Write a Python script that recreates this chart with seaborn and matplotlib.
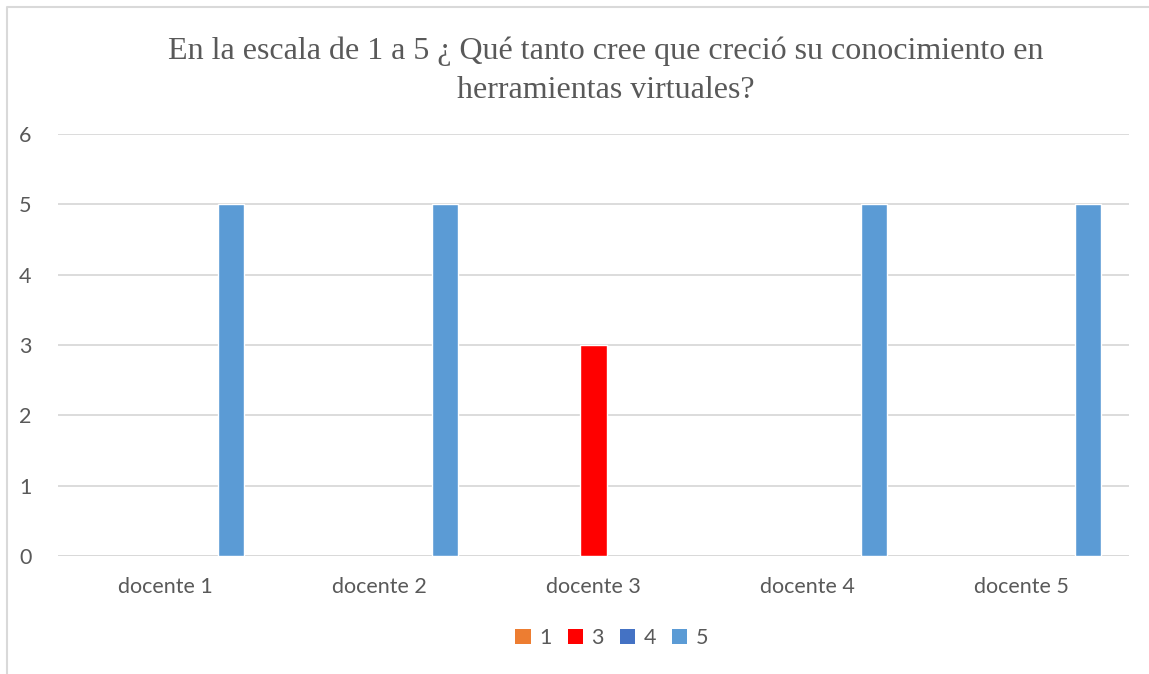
import numpy as np
import pandas as pd
import matplotlib
matplotlib.use("Agg")
import matplotlib.pyplot as plt
from matplotlib.patches import Patch
from matplotlib.lines import Line2D
import seaborn as sns

# Survey answers per teacher (scale 1-5)
docentes = ["docente 1", "docente 2", "docente 3", "docente 4", "docente 5"]
serie_1 = [np.nan, np.nan, np.nan, np.nan, np.nan]
serie_2 = [np.nan, np.nan, np.nan, np.nan, np.nan]
serie_3 = [np.nan, np.nan, 3, np.nan, np.nan]
serie_4 = [np.nan, np.nan, np.nan, np.nan, np.nan]
serie_5 = [5, 5, np.nan, 5, 5]
series = ["1", "2", "3", "4", "5"]
legend_series = ["1", "3", "4", "5"]
colores = {"1": "#ED7D31", "2": "#A5A5A5", "3": "#FF0000", "4": "#4472C4", "5": "#5B9BD5"}

titulo = "En la escala de 1 a 5 ¿ Qué tanto cree que creció su conocimiento en\nherramientas virtuales?"

rows = []
for name, vals in zip(series, [serie_1, serie_2, serie_3, serie_4, serie_5]):
    for d, v in zip(docentes, vals):
        if not np.isnan(v):
            rows.append({"docente": d, "serie": name, "valor": v})
df = pd.DataFrame(rows)

sns.set_theme(style="white")
plt.rcParams["font.family"] = ["Lato", "DejaVu Sans"]

fig = plt.figure(figsize=(11.49, 6.74), dpi=100)
ax = fig.add_axes([58 / 1149, 1 - 556 / 674, (1129 - 58) / 1149, (556 - 134) / 674])

sns.barplot(data=df, x="docente", y="valor", hue="serie", order=docentes,
            hue_order=series, palette=colores, width=0.77, gap=0.21, dodge=True,
            saturation=1, ax=ax, legend=False, errorbar=None)

ax.set_ylim(0, 6)
ax.set_xlim(-0.5, 4.5)
ax.set_yticks(range(0, 7))
ax.yaxis.grid(True, color="#D9D9D9", linewidth=1.3)
ax.set_axisbelow(True)
for s in ax.spines.values():
    s.set_visible(False)
ax.axhline(0, color="#D9D9D9", linewidth=1.3, zorder=0.5)
ax.set_xlabel("")
ax.set_ylabel("")
ax.tick_params(axis="y", length=0, pad=19, labelsize=15.5, labelcolor="#595959")
ax.tick_params(axis="x", length=0, pad=15, labelsize=15.5, labelcolor="#595959")

fig.text(606 / 1149, 1 - 71 / 674, titulo, ha="center", va="center", fontsize=23,
         color="#595959", family=["Liberation Serif"], linespacing=1.45)

handles = [Patch(facecolor=colores[s], edgecolor="none", label=s) for s in legend_series]
fig.legend(handles=handles, loc="center", bbox_to_anchor=(612 / 1149, 1 - 638 / 674),
           ncol=4, frameon=False, fontsize=15.5, labelcolor="#595959",
           handlelength=0.7, handleheight=0.7, handletextpad=0.4, columnspacing=0.75)

# chart frame (left and top edges)
fig.add_artist(Line2D([7 / 1149, 7 / 1149, 1.0], [0.0, 1 - 7 / 674, 1 - 7 / 674],
                      transform=fig.transFigure, color="#D9D9D9", linewidth=1.5))

fig.savefig("out.png", dpi=100, facecolor="white")
